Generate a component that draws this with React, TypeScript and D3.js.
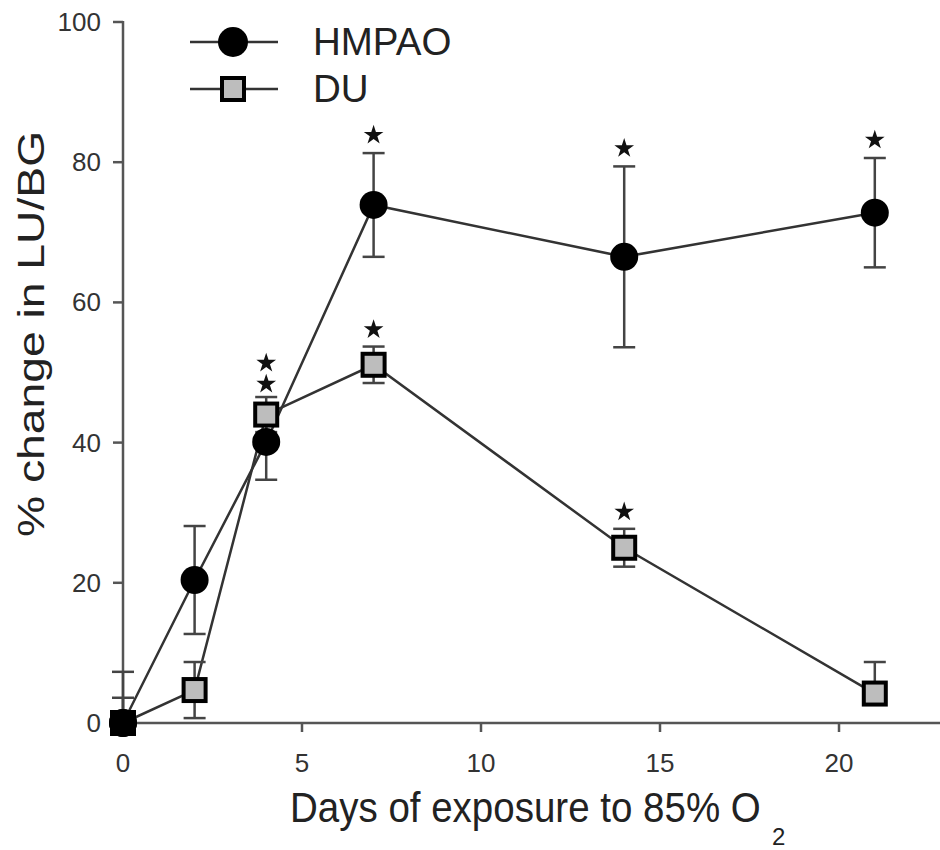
import React from "react";
import * as d3 from "d3";

const days = [0, 2, 4, 7, 14, 21];
const hmpaoMean = [0, 20.4, 40.1, 73.9, 66.5, 72.8];
const hmpaoErr = [7.3, 7.7, 5.4, 7.4, 12.9, 7.8];
const duMean = [0, 4.7, 44.0, 51.1, 25.0, 4.2];
const duErr = [3.6, 4.0, 2.5, 2.6, 2.7, 4.5];
const hmpaoStar = [false, false, true, true, true, true];
const duStar = [false, false, true, true, true, false];
const xTicks = [0, 5, 10, 15, 20];
const yTicks = [0, 20, 40, 60, 80, 100];
const seriesNames = ["HMPAO", "DU"];

const W = 940;
const H = 850;
const FONT = "'Liberation Sans', Arial, sans-serif";

export default function App() {
  const x = d3.scaleLinear().domain([0, 20]).range([123, 839]);
  const y = d3.scaleLinear().domain([0, 100]).range([723, 22]);
  const xEnd = 940;
  const lineGen = d3
    .line<number>()
    .x((_, i) => x(days[i]))
    .y((d) => y(d));
  const star = d3.symbol().type(d3.symbolStar).size(120)();
  const lineColor = "#333";
  const capHalf = 11;

  const errorBars = (means: number[], errs: number[], key: string, upOnly: boolean[]) =>
    means.map((m, i) => {
      const cx = x(days[i]);
      const top = y(m + errs[i]);
      const bot = upOnly[i] ? y(m) : y(m - errs[i]);
      return (
        <g key={key + i} stroke="#444" strokeWidth={2.5}>
          <line x1={cx} x2={cx} y1={top} y2={bot} />
          <line x1={cx - capHalf} x2={cx + capHalf} y1={top} y2={top} />
          {!upOnly[i] && <line x1={cx - capHalf} x2={cx + capHalf} y1={bot} y2={bot} />}
        </g>
      );
    });

  const noLower = [true, false, false, false, false, false];
  const duNoLower = [true, false, false, false, false, true];

  return (
    <svg
      width={W}
      height={H}
      style={{ display: "block", background: "#fff", position: "absolute", left: 0, top: 0 }}
      fontFamily={FONT}
    >
      {/* axes */}
      <g stroke="#555" strokeWidth={2.5} fill="none">
        <line x1={x(0)} x2={x(0)} y1={y(0)} y2={y(100) - 1} />
        <line x1={x(0)} x2={xEnd} y1={y(0)} y2={y(0)} />
        {yTicks.map((t) => (
          <line key={"yt" + t} x1={x(0) - 10} x2={x(0)} y1={y(t)} y2={y(t)} />
        ))}
        {xTicks.map((t) => (
          <line key={"xt" + t} x1={x(t)} x2={x(t)} y1={y(0)} y2={y(0) + 9} />
        ))}
      </g>
      <g fill="#333" fontSize={26}>
        {yTicks.map((t) => (
          <text key={"yl" + t} x={101} y={y(t) + 9} textAnchor="end">
            {t}
          </text>
        ))}
        {xTicks.map((t) => (
          <text key={"xl" + t} x={x(t)} y={772} textAnchor="middle">
            {t}
          </text>
        ))}
      </g>
      {/* titles */}
      <text
        fill="#222"
        fontSize={37}
        transform={`translate(44,537) scale(1,1.25) rotate(-90)`}
        textAnchor="start"
      >
        % change in LU/BG
      </text>
      <text fill="#222" fontSize={38.5} transform="translate(290,822) scale(1,1.1)">
        Days of exposure to 85% O
      </text>
      <text fill="#222" fontSize={24} x={772} y={845}>
        2
      </text>

      {/* HMPAO */}
      <path d={lineGen(hmpaoMean) || ""} fill="none" stroke={lineColor} strokeWidth={2.5} />
      {errorBars(hmpaoMean, hmpaoErr, "he", noLower)}
      {/* DU */}
      <path d={lineGen(duMean) || ""} fill="none" stroke={lineColor} strokeWidth={2.5} />
      {errorBars(duMean, duErr, "de", duNoLower)}
      {hmpaoMean.map((m, i) => (
        <circle key={"hc" + i} cx={x(days[i])} cy={y(m)} r={14} fill="#000" />
      ))}
      {duMean.map((m, i) => (
        <rect
          key={"dr" + i}
          x={x(days[i]) - 11}
          y={y(m) - 11}
          width={22}
          height={22}
          fill="#bdbdbd"
          stroke="#000"
          strokeWidth={4}
        />
      ))}
      {/* origin circle sits on top of the DU square */}
      <circle cx={x(days[0])} cy={y(hmpaoMean[0])} r={14} fill="#000" />

      {/* stars */}
      {hmpaoMean.map((m, i) =>
        hmpaoStar[i] ? (
          <path
            key={"hs" + i}
            d={star || ""}
            fill="#111"
            transform={`translate(${x(days[i])},${
              days[i] === 4 ? y(duMean[i] + duErr[i]) - 34 : y(m + hmpaoErr[i]) - 18
            })`}
          />
        ) : null
      )}
      {duMean.map((m, i) =>
        duStar[i] ? (
          <path
            key={"ds" + i}
            d={star || ""}
            fill="#111"
            transform={`translate(${x(days[i])},${y(m + duErr[i]) - (days[i] === 4 ? 13 : 17)})`}
          />
        ) : null
      )}

      {/* legend */}
      <g>
        <line x1={190} x2={278} y1={42} y2={42} stroke={lineColor} strokeWidth={2.5} />
        <circle cx={233} cy={42} r={15} fill="#000" />
        <text x={313} y={55} fontSize={38.5} fill="#222">
          {seriesNames[0]}
        </text>
        <line x1={190} x2={278} y1={89} y2={89} stroke={lineColor} strokeWidth={2.5} />
        <rect x={222} y={78} width={22} height={22} fill="#bdbdbd" stroke="#000" strokeWidth={4} />
        <text x={313} y={102} fontSize={38.5} fill="#222">
          {seriesNames[1]}
        </text>
      </g>
    </svg>
  );
}
